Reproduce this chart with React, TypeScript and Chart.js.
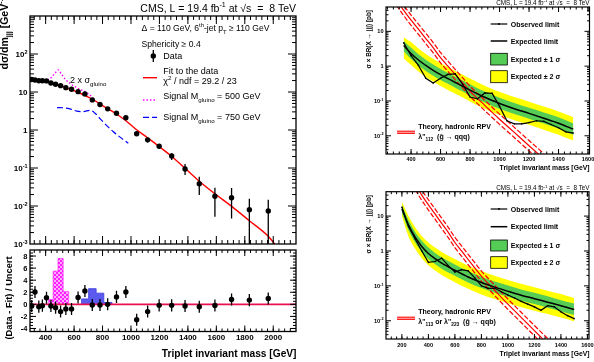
import React, { useEffect, useRef } from 'react';
import { Chart, registerables } from 'chart.js';

Chart.register(...registerables);

const FONT = '"Liberation Sans", Arial, Helvetica, sans-serif';

// ================= Left panel: triplet invariant mass spectrum =================
const massCenters = [302, 325, 352, 377, 406, 437, 470, 505, 542, 582, 628, 676, 728, 782, 836, 898, 964, 1040, 1117, 1198, 1286, 1380, 1480, 1590, 1707, 1832, 1965];
const dataValues = [21.3, 20.7, 19.8, 19.8, 19.6, 17.3, 16.0, 14.7, 13.0, 11.8, 10.2, 8.9, 6.2, 4.7, 3.6, 2.75, 2.1, 0.80, 0.55, 0.372, 0.207, 0.094, 0.0386, 0.018, 0.0165, 0.0080, 0.0074];
const dataHigh = [22.0, 21.4, 20.4, 20.4, 20.2, 17.9, 16.6, 15.3, 13.5, 12.3, 10.7, 9.3, 6.5, 5.0, 3.85, 2.95, 2.3, 0.90, 0.63, 0.43, 0.245, 0.127, 0.059, 0.0303, 0.0296, 0.0155, 0.0145];
const dataLow = [20.6, 20.0, 19.2, 19.2, 19.0, 16.7, 15.4, 14.1, 12.5, 11.3, 9.7, 8.5, 5.9, 4.4, 3.35, 2.55, 1.9, 0.70, 0.47, 0.32, 0.163, 0.0655, 0.0195, 0.0052, 0.0047, 0.0001, 0.0001];

const fitMass = [290, 350, 400, 450, 500, 550, 600, 650, 700, 750, 800, 850, 900, 960, 1035, 1112, 1195, 1283, 1380, 1480, 1590, 1708, 1832, 1968, 2030];
const fitValues = [21.6, 20.4, 19.3, 17.4, 15.1, 12.8, 10.8, 9.0, 7.3, 5.8, 4.4, 3.4, 2.6, 1.8, 1.05, 0.64, 0.375, 0.207, 0.098, 0.045, 0.021, 0.0098, 0.0041, 0.00156, 0.0008];

const sig500Mass = [413, 440, 465, 489, 510, 536, 570, 606, 640, 677, 710, 735];
const sig500Values = [21, 24, 31, 38, 30, 22, 17, 13.8, 11.8, 10.2, 8.4, 6.8];
const sig750Mass = [480, 520, 570, 618, 665, 712, 745, 782, 830, 876, 930, 981];
const sig750Values = [3.9, 3.85, 3.6, 3.15, 3.05, 3.3, 2.8, 2.0, 1.3, 0.9, 0.62, 0.45];

const pullValues = [-0.28, 2.05, -0.38, -0.22, 1.08, -0.28, -0.55, -1.2, -0.76, -0.76, 1.13, 2.2, -0.1, -0.1, 0, 1.23, 2.05, -2.55, -1.2, -0.17, -0.17, -0.28, -0.4, -0.2, 0.8, 0.7, 0.97];
const pullError = 1;
const sig500HistEdges = [421, 453, 487, 523, 562];
const sig500HistValues = [0.8, 5.5, 7.6, 2.1];
const sig750HistEdges = [652, 702, 755, 809, 867];
const sig750HistValues = [0.9, 2.6, 1.85, 0.3];

const massTickLabels = [400, 600, 800, 1000, 1200, 1400, 1600, 1800, 2000];
const pullTickLabels = [8, 6, 4, 2, 0, -2, -4];
const yieldTickValues = [100, 10, 1, 0.1, 0.01, 0.001];
const yieldTickLabels = ['10^{2}', '10', '1', '10^{-1}', '10^{-2}', '10^{-3}'];

// ================= Right panels: cross-section limits =================
const limitTickValues = [10, 1, 0.1, 0.01];
const limitTickLabels = ['10', '1', '10^{-1}', '10^{-2}'];
const topMassTicks = [400, 600, 800, 1000, 1200, 1400, 1600];
const bottomMassTicks = [200, 400, 600, 800, 1000, 1200, 1400, 1600];

const topExpMass = [350, 400, 450, 500, 550, 600, 650, 700, 750, 800, 850, 900, 950, 1000, 1100, 1200, 1300, 1400, 1500];
const topExpected = [3.9, 2.3, 1.5, 1.05, 0.76, 0.57, 0.44, 0.34, 0.265, 0.205, 0.16, 0.128, 0.103, 0.085, 0.06, 0.044, 0.032, 0.023, 0.0155];
const topYellowHi = [6.8, 4.9, 3.2, 2.25, 1.62, 1.22, 0.94, 0.73, 0.57, 0.44, 0.345, 0.275, 0.222, 0.183, 0.129, 0.095, 0.069, 0.05, 0.034];
const topYellowLo = [1.7, 1.08, 0.7, 0.49, 0.36, 0.27, 0.207, 0.16, 0.125, 0.096, 0.075, 0.06, 0.048, 0.04, 0.028, 0.0207, 0.015, 0.0108, 0.0073];
const topGreenHi = [5.3, 3.35, 2.2, 1.53, 1.11, 0.83, 0.64, 0.5, 0.385, 0.3, 0.233, 0.187, 0.15, 0.124, 0.088, 0.064, 0.047, 0.034, 0.0225];
const topGreenLo = [2.7, 1.6, 1.05, 0.73, 0.53, 0.4, 0.31, 0.24, 0.186, 0.144, 0.112, 0.09, 0.072, 0.06, 0.042, 0.031, 0.0224, 0.0161, 0.0108];
const topObsMass = [350, 400, 450, 500, 550, 600, 650, 700, 750, 800, 850, 900, 950, 1000, 1050, 1100, 1150, 1200, 1250, 1300, 1350, 1400, 1450, 1500];
const topObserved = [4.7, 2.0, 1.05, 0.45, 0.33, 0.45, 0.58, 0.6, 0.3, 0.13, 0.115, 0.17, 0.165, 0.07, 0.027, 0.022, 0.022, 0.024, 0.027, 0.026, 0.021, 0.017, 0.013, 0.012];

const botExpMass = [200, 250, 300, 350, 400, 450, 500, 600, 700, 800, 900, 1000, 1100, 1200, 1300, 1400, 1500];
const botExpected = [16, 5.5, 2.5, 1.35, 0.85, 0.6, 0.45, 0.28, 0.18, 0.125, 0.092, 0.07, 0.054, 0.043, 0.034, 0.027, 0.021];
const botYellowHi = [26, 10, 4.8, 2.7, 1.75, 1.25, 0.94, 0.59, 0.38, 0.265, 0.195, 0.148, 0.115, 0.092, 0.073, 0.058, 0.045];
const botYellowLo = [10, 2.6, 1.15, 0.62, 0.39, 0.275, 0.205, 0.128, 0.082, 0.057, 0.042, 0.032, 0.0245, 0.0195, 0.0155, 0.0123, 0.0096];
const botGreenHi = [21, 7.6, 3.5, 1.95, 1.25, 0.88, 0.66, 0.41, 0.265, 0.183, 0.134, 0.102, 0.079, 0.063, 0.05, 0.039, 0.031];
const botGreenLo = [12.5, 3.9, 1.75, 0.94, 0.59, 0.42, 0.31, 0.195, 0.125, 0.087, 0.064, 0.049, 0.0375, 0.03, 0.0236, 0.0188, 0.0146];
const botObsMass = [200, 250, 300, 350, 400, 450, 500, 550, 600, 650, 700, 750, 800, 850, 900, 950, 1000, 1050, 1100, 1150, 1200, 1250, 1300, 1350, 1400, 1450, 1500];
const botObserved = [18, 5.0, 2.2, 1.0, 0.47, 0.5, 0.62, 0.38, 0.25, 0.29, 0.27, 0.17, 0.1, 0.085, 0.085, 0.068, 0.055, 0.045, 0.036, 0.03, 0.025, 0.02, 0.027, 0.025, 0.018, 0.014, 0.0115];

const theoryMass = [300, 350, 400, 450, 500, 550, 600, 650, 700, 750, 800, 850, 900, 950, 1000, 1100, 1200, 1300];
const theoryXsec = [80, 40, 21, 11.5, 6.2, 3.4, 1.75, 1.0, 0.57, 0.33, 0.19, 0.118, 0.075, 0.047, 0.030, 0.0125, 0.0052, 0.0022];
const theoryHigh = [112, 56, 29.4, 16.1, 8.7, 4.76, 2.45, 1.4, 0.8, 0.46, 0.266, 0.165, 0.105, 0.066, 0.042, 0.0175, 0.0073, 0.0031];
const theoryLow = [57, 28.4, 14.9, 8.2, 4.4, 2.41, 1.24, 0.71, 0.405, 0.234, 0.135, 0.084, 0.053, 0.0334, 0.0213, 0.0089, 0.0037, 0.00156];

// ================= helpers =================
type Seg = [string, number];
function parse(s: string): Seg[] {
  const out: Seg[] = [];
  let buf = '';
  let i = 0;
  while (i < s.length) {
    const c = s[i];
    if ((c === '^' || c === '_') && s[i + 1] === '{') {
      if (buf) { out.push([buf, 0]); buf = ''; }
      const j = s.indexOf('}', i + 2);
      out.push([s.slice(i + 2, j), c === '^' ? 1 : -1]);
      i = j + 1;
    } else { buf += c; i++; }
  }
  if (buf) out.push([buf, 0]);
  return out;
}
function segFont(size: number, bold: boolean, k: number) {
  const s = k === 0 ? size : size * 0.68;
  return `${bold ? 'bold ' : ''}${s.toFixed(2)}px ${FONT}`;
}
function drawRich(ctx: any, x: number, y: number, text: string, size: number, opt: any = {}) {
  const segs = parse(text);
  ctx.save();
  ctx.translate(x, y);
  if (opt.rot) ctx.rotate(opt.rot);
  let w = 0;
  for (const [t, k] of segs) { ctx.font = segFont(size, !!opt.bold, k); w += ctx.measureText(t).width; }
  let cx = opt.align === 'right' ? -w : opt.align === 'center' ? -w / 2 : 0;
  ctx.fillStyle = opt.color || '#000';
  ctx.textAlign = 'left';
  ctx.textBaseline = 'alphabetic';
  for (const [t, k] of segs) {
    ctx.font = segFont(size, !!opt.bold, k);
    const dy = k === 1 ? -size * 0.42 : k === -1 ? size * 0.3 : 0;
    ctx.fillText(t, cx, dy);
    cx += ctx.measureText(t).width;
  }
  ctx.restore();
}
function steps(from: number, to: number, step: number) {
  const r: number[] = [];
  for (let v = from; v <= to + 1e-9; v += step) r.push(Math.round(v * 1000) / 1000);
  return r;
}
function logMinors(d0: number, d1: number) {
  const r: number[] = [];
  for (let d = d0; d <= d1; d++) for (let k = 2; k <= 9; k++) r.push(k * Math.pow(10, d));
  return r;
}
function logMajors(d0: number, d1: number) {
  const r: number[] = [];
  for (let d = d0; d <= d1; d++) r.push(Math.pow(10, d));
  return r;
}
function drawTicks(ctx: any, chart: any, xs: number[], xLen: number, ys: number[], yLen: number, lw = 1) {
  const a = chart.chartArea;
  const xS = chart.scales.x, yS = chart.scales.y;
  ctx.save();
  ctx.strokeStyle = '#000';
  ctx.lineWidth = lw;
  ctx.beginPath();
  for (const v of xs) {
    const p = xS.getPixelForValue(v);
    if (p < a.left + 0.5 || p > a.right - 0.5) continue;
    ctx.moveTo(p, a.bottom); ctx.lineTo(p, a.bottom - xLen);
    ctx.moveTo(p, a.top); ctx.lineTo(p, a.top + xLen);
  }
  for (const v of ys) {
    const p = yS.getPixelForValue(v);
    if (p < a.top + 0.5 || p > a.bottom - 0.5) continue;
    ctx.moveTo(a.left, p); ctx.lineTo(a.left + yLen, p);
    ctx.moveTo(a.right, p); ctx.lineTo(a.right - yLen, p);
  }
  ctx.stroke();
  ctx.restore();
}
function drawFrame(ctx: any, a: any, lw: number) {
  ctx.save();
  ctx.strokeStyle = '#000';
  ctx.lineWidth = lw;
  ctx.strokeRect(a.left, a.top, a.right - a.left, a.bottom - a.top);
  ctx.restore();
}
function pts(xs: number[], ys: number[]) {
  return xs.map((x, i) => ({ x, y: ys[i] }));
}
function histPts(edges: number[], vals: number[]) {
  const r = [{ x: edges[0], y: 0 }];
  vals.forEach((v, i) => r.push({ x: edges[i], y: v }));
  r.push({ x: edges[edges.length - 1], y: 0 });
  return r;
}
const common: any = {
  responsive: false,
  animation: false,
  devicePixelRatio: 1,
  events: [],
  plugins: { legend: { display: false }, tooltip: { enabled: false }, title: { display: false } },
};

// ================= Left main panel =================
function mainConfig() {
  const plugin = {
    id: 'mainDecor',
    afterDatasetsDraw(chart: any) {
      const { ctx, chartArea: a } = chart;
      const xS = chart.scales.x, yS = chart.scales.y;
      ctx.save();
      ctx.beginPath();
      ctx.rect(a.left, a.top, a.right - a.left, a.bottom - a.top);
      ctx.clip();
      ctx.strokeStyle = '#000';
      ctx.lineWidth = 1.3;
      ctx.beginPath();
      massCenters.forEach((m, i) => {
        const px = xS.getPixelForValue(m);
        ctx.moveTo(px, yS.getPixelForValue(dataHigh[i]));
        ctx.lineTo(px, yS.getPixelForValue(dataLow[i]));
      });
      ctx.stroke();
      ctx.restore();
    },
    afterDraw(chart: any) {
      const { ctx, chartArea: a } = chart;
      const yS = chart.scales.y;
      drawFrame(ctx, a, 1.3);
      drawTicks(ctx, chart, massTickLabels, 8, logMajors(-3, 3), 8, 1);
      drawTicks(ctx, chart, steps(320, 2160, 40), 4, logMinors(-3, 2), 4, 1);
      yieldTickValues.forEach((v, i) => {
        drawRich(ctx, 27.5, yS.getPixelForValue(v) + 3, yieldTickLabels[i], 8, { bold: true, align: 'right' });
      });
      drawRich(ctx, 7.5, -6, 'dσ/dm_{jjj} [GeV^{-1}]', 10.5, { bold: true, align: 'right', rot: -Math.PI / 2 });
      drawRich(ctx, 296, 11.5, 'CMS, L = 19.4 fb^{-1} at √s  =  8 TeV', 10.5, { align: 'right' });
      drawRich(ctx, 141.5, 31, 'Δ = 110 GeV, 6^{th}-jet p_{T} ≥ 110 GeV', 8.6);
      drawRich(ctx, 141.5, 46.5, 'Sphericity ≥ 0.4', 8.6);
      // legend
      ctx.save();
      ctx.fillStyle = '#000';
      ctx.beginPath(); ctx.arc(153.3, 56, 2.7, 0, Math.PI * 2); ctx.fill();
      ctx.strokeStyle = '#000'; ctx.lineWidth = 1.3;
      ctx.beginPath(); ctx.moveTo(153.3, 50); ctx.lineTo(153.3, 62); ctx.stroke();
      ctx.strokeStyle = '#ff0000'; ctx.lineWidth = 1.4;
      ctx.beginPath(); ctx.moveTo(143, 77.7); ctx.lineTo(157, 77.7); ctx.stroke();
      ctx.strokeStyle = '#ff00ff'; ctx.setLineDash([1.5, 2]);
      ctx.beginPath(); ctx.moveTo(143, 100); ctx.lineTo(157, 100); ctx.stroke();
      ctx.strokeStyle = '#0000ff'; ctx.setLineDash([6, 3]); ctx.lineWidth = 1.2;
      ctx.beginPath(); ctx.moveTo(143, 117.3); ctx.lineTo(157, 117.3); ctx.stroke();
      ctx.restore();
      drawRich(ctx, 163.3, 59, 'Data', 9);
      drawRich(ctx, 163.3, 74.3, 'Fit to the data', 9);
      drawRich(ctx, 163.3, 83.5, 'χ^{2} / ndf = 29.2 / 23', 9);
      drawRich(ctx, 163.3, 99, 'Signal M_{gluino} = 500 GeV', 9);
      drawRich(ctx, 163.3, 119.8, 'Signal M_{gluino} = 750 GeV', 9);
      drawRich(ctx, 70, 83, '2 x σ_{gluino}', 9);
    },
  };
  return {
    type: 'line',
    data: {
      datasets: [
        { data: pts(massCenters, dataValues), showLine: false, pointRadius: 2.7, pointBackgroundColor: '#000', pointBorderColor: '#000', pointBorderWidth: 0 },
        { data: pts(fitMass, fitValues), borderColor: '#ff0000', borderWidth: 1.4, pointRadius: 0, cubicInterpolationMode: 'monotone', fill: false },
        { data: pts(sig500Mass, sig500Values), borderColor: '#ff00ff', borderWidth: 1.4, borderDash: [1.5, 2], pointRadius: 0, cubicInterpolationMode: 'monotone', fill: false },
        { data: pts(sig750Mass, sig750Values), borderColor: '#0000ff', borderWidth: 1.2, borderDash: [6, 3], pointRadius: 0, cubicInterpolationMode: 'monotone', fill: false },
      ],
    },
    options: {
      ...common,
      layout: { padding: { left: 30, top: 16, right: 4, bottom: 8 } },
      scales: {
        x: { type: 'linear', min: 290, max: 2160, display: false },
        y: { type: 'logarithmic', min: 0.001, max: 1000, display: false },
      },
    },
    plugins: [plugin],
  };
}

// ================= Left ratio panel =================
function ratioConfig(ctx2d: any) {
  const pc = document.createElement('canvas');
  pc.width = 4; pc.height = 4;
  const g = pc.getContext('2d')!;
  g.fillStyle = '#ff22ff'; g.fillRect(0, 0, 4, 4);
  g.fillStyle = '#ffaaff'; g.fillRect(0, 0, 2, 2); g.fillRect(2, 2, 2, 2);
  const pattern = ctx2d.createPattern(pc, 'repeat');
  const plugin = {
    id: 'ratioDecor',
    afterDatasetsDraw(chart: any) {
      const { ctx } = chart;
      const xS = chart.scales.x, yS = chart.scales.y;
      ctx.save();
      ctx.strokeStyle = '#000'; ctx.lineWidth = 1.3;
      ctx.beginPath();
      massCenters.forEach((m, i) => {
        const px = xS.getPixelForValue(m);
        ctx.moveTo(px, yS.getPixelForValue(pullValues[i] + pullError));
        ctx.lineTo(px, yS.getPixelForValue(pullValues[i] - pullError));
      });
      ctx.stroke();
      ctx.restore();
    },
    afterDraw(chart: any) {
      const { ctx, chartArea: a } = chart;
      const xS = chart.scales.x, yS = chart.scales.y;
      drawFrame(ctx, a, 1.3);
      drawTicks(ctx, chart, massTickLabels, 6, pullTickLabels, 6, 1);
      drawTicks(ctx, chart, steps(320, 2160, 40), 3, steps(-4.5, 9, 0.5), 3, 1);
      pullTickLabels.forEach((v) => drawRich(ctx, 27.5, yS.getPixelForValue(v) + 2.8, String(v), 7.5, { bold: true, align: 'right' }));
      massTickLabels.forEach((v) => drawRich(ctx, xS.getPixelForValue(v), 94, String(v), 8, { bold: true, align: 'center' }));
      drawRich(ctx, 296.5, 110.5, 'Triplet invariant mass [GeV]', 10.2, { bold: true, align: 'right' });
      drawRich(ctx, 12, 52, '(Data - Fit) / Uncert', 9.3, { bold: true, align: 'center', rot: -Math.PI / 2 });
    },
  };
  return {
    type: 'line',
    data: {
      datasets: [
        { data: pts(massCenters, pullValues), showLine: false, pointRadius: 2.7, pointBackgroundColor: '#000', pointBorderColor: '#000', pointBorderWidth: 0 },
        { data: [{ x: 290, y: 0 }, { x: 2160, y: 0 }], borderColor: '#e8104f', borderWidth: 1.8, pointRadius: 0, fill: false },
        { data: histPts(sig500HistEdges, sig500HistValues), stepped: 'before', borderColor: '#ff00ff', borderWidth: 0.6, backgroundColor: pattern, fill: 'origin', pointRadius: 0 },
        { data: histPts(sig750HistEdges, sig750HistValues), stepped: 'before', borderColor: '#3c3ce0', borderWidth: 0.8, backgroundColor: '#5a5aee', fill: 'origin', pointRadius: 0 },
      ],
    },
    options: {
      ...common,
      layout: { padding: { left: 30, top: 2.5, right: 4, bottom: 116 - 85.5 } },
      scales: {
        x: { type: 'linear', min: 290, max: 2160, display: false },
        y: { type: 'linear', min: -4.5, max: 9, display: false },
      },
    },
    plugins: [plugin],
  };
}

// ================= Right limit panels =================
function limitConfig(p: any) {
  const clear = 'rgba(0,0,0,0)';
  const plugin = {
    id: 'limitDecor',
    afterDraw(chart: any) {
      const { ctx, chartArea: a } = chart;
      const xS = chart.scales.x, yS = chart.scales.y;
      drawFrame(ctx, a, 1.2);
      drawTicks(ctx, chart, p.xTicks, 5, logMajors(-3, 2), 5, 1);
      drawTicks(ctx, chart, steps(0, 1600, 40), 2.5, logMinors(-3, 1), 2.5, 1);
      limitTickValues.forEach((v, i) => drawRich(ctx, 83.5, yS.getPixelForValue(v) + 2, limitTickLabels[i], 5.6, { bold: true, align: 'right' }));
      p.xTicks.forEach((v: number) => drawRich(ctx, xS.getPixelForValue(v), p.xLabelY, String(v), 5.6, { bold: true, align: 'center' }));
      drawRich(ctx, 289.5, p.xTitleY, 'Triplet invariant mass [GeV]', 6.8, { bold: true, align: 'right' });
      drawRich(ctx, 71, p.yTitleEnd, 'σ × BR(X → jjj) [pb]', 6.4, { bold: true, align: 'right', rot: -Math.PI / 2 });
      drawRich(ctx, 289.5, p.titleY, 'CMS, L = 19.4 fb^{-1} at √s  =  8 TeV', 6.3, { align: 'right' });
      // legend
      const L = p.legend;
      ctx.save();
      ctx.strokeStyle = '#000';
      ctx.lineWidth = 1.2;
      ctx.beginPath(); ctx.moveTo(190.7, L.obs); ctx.lineTo(207.3, L.obs); ctx.stroke();
      ctx.fillStyle = '#000'; ctx.beginPath(); ctx.arc(199, L.obs, 1, 0, Math.PI * 2); ctx.fill();
      ctx.lineWidth = 1.5;
      ctx.beginPath(); ctx.moveTo(190.7, L.exp); ctx.lineTo(207.3, L.exp); ctx.stroke();
      ctx.lineWidth = 0.8;
      ctx.fillStyle = '#55cc55'; ctx.fillRect(190.7, L.g[0], 16.6, L.g[1] - L.g[0]); ctx.strokeRect(190.7, L.g[0], 16.6, L.g[1] - L.g[0]);
      ctx.fillStyle = '#ffff00'; ctx.fillRect(190.7, L.y[0], 16.6, L.y[1] - L.y[0]); ctx.strokeRect(190.7, L.y[0], 16.6, L.y[1] - L.y[0]);
      ctx.strokeStyle = '#ff2020'; ctx.lineWidth = 3.4;
      ctx.beginPath(); ctx.moveTo(97, p.theoryLineY); ctx.lineTo(115, p.theoryLineY); ctx.stroke();
      ctx.strokeStyle = '#ffb0b0'; ctx.lineWidth = 1;
      ctx.beginPath(); ctx.moveTo(97, p.theoryLineY); ctx.lineTo(115, p.theoryLineY); ctx.stroke();
      ctx.restore();
      drawRich(ctx, 210.7, L.obs + 2.5, 'Observed limit', 7, { bold: true });
      drawRich(ctx, 210.7, L.exp + 2.5, 'Expected limit', 7, { bold: true });
      drawRich(ctx, 210.7, (L.g[0] + L.g[1]) / 2 + 2.5, 'Expected ± 1 σ', 7, { bold: true });
      drawRich(ctx, 210.7, (L.y[0] + L.y[1]) / 2 + 2.5, 'Expected ± 2 σ', 7, { bold: true });
      drawRich(ctx, 118.3, p.theoryY[0], 'Theory, hadronic RPV', 7, { bold: true });
      drawRich(ctx, 118.3, p.theoryY[1], p.theoryText, 7, { bold: true });
    },
  };
  const band = (ys: number[], color: string, fill: any) => ({
    data: pts(p.expMass, ys), borderColor: clear, borderWidth: 0, pointRadius: 0, backgroundColor: color, fill, cubicInterpolationMode: 'monotone',
  });
  return {
    type: 'line',
    data: {
      datasets: [
        { data: pts(p.obsMass, p.observed), borderColor: '#000', borderWidth: 1.2, pointRadius: 0.8, pointBackgroundColor: '#000', pointBorderWidth: 0, fill: false, tension: 0 },
        { data: pts(p.expMass, p.expected), borderColor: '#000', borderWidth: 1.5, pointRadius: 0, fill: false, cubicInterpolationMode: 'monotone' },
        { data: pts(theoryMass, theoryXsec), borderColor: '#ff0000', borderWidth: 1.2, pointRadius: 0, fill: false, cubicInterpolationMode: 'monotone' },
        { data: pts(theoryMass, theoryHigh), borderColor: '#ff0000', borderWidth: 1.2, borderDash: [5, 2], pointRadius: 0, fill: false, cubicInterpolationMode: 'monotone' },
        { data: pts(theoryMass, theoryLow), borderColor: '#ff0000', borderWidth: 1.2, borderDash: [5, 2], pointRadius: 0, fill: false, cubicInterpolationMode: 'monotone' },
        band(p.greenHi, '#55cc55', '+1'),
        band(p.greenLo, clear, false),
        band(p.yellowHi, '#ffff00', '+1'),
        band(p.yellowLo, clear, false),
      ],
    },
    options: {
      ...common,
      layout: { padding: p.padding },
      scales: {
        x: { type: 'linear', min: p.xMin, max: p.xMax, display: false },
        y: { type: 'logarithmic', min: 0.003, max: 50, display: false },
      },
    },
    plugins: [plugin],
  };
}

const topPanel = {
  expMass: topExpMass, expected: topExpected, yellowHi: topYellowHi, yellowLo: topYellowLo, greenHi: topGreenHi, greenLo: topGreenLo,
  obsMass: topObsMass, observed: topObserved, xTicks: topMassTicks, xMin: 230, xMax: 1610,
  padding: { left: 86, top: 7, right: 4.5, bottom: 21 },
  titleY: 4.8, xLabelY: 160.5, xTitleY: 169.5, yTitleEnd: 10,
  legend: { obs: 24, exp: 41, g: [53.3, 65], y: [70.7, 82.7] },
  theoryY: [128.5, 138.5], theoryLineY: 132.3, theoryText: "λ''_{112}  (g̃ → qqq)",
};
const bottomPanel = {
  expMass: botExpMass, expected: botExpected, yellowHi: botYellowHi, yellowLo: botYellowLo, greenHi: botGreenHi, greenLo: botGreenLo,
  obsMass: botObsMass, observed: botObserved, xTicks: bottomMassTicks, xMin: 80, xMax: 1612,
  padding: { left: 86, top: 16.7, right: 5, bottom: 23 },
  titleY: 15.2, xLabelY: 171.5, xTitleY: 181, yTitleEnd: 20,
  legend: { obs: 34, exp: 51.7, g: [65, 76], y: [81.7, 93.3] },
  theoryY: [139, 149], theoryLineY: 143.3, theoryText: "λ''_{113} or λ''_{223}  (g̃ → qqb)",
};

function ChartCanvas({ left, top, width, height, make }: any) {
  const ref = useRef<HTMLCanvasElement>(null);
  useEffect(() => {
    const c = ref.current as HTMLCanvasElement;
    const chart = new Chart(c, make(c.getContext('2d')));
    return () => chart.destroy();
  }, []);
  return <canvas ref={ref} width={width} height={height} style={{ position: 'absolute', left, top, width, height }} />;
}

export default function App() {
  return (
    <div style={{ position: 'fixed', left: 0, top: 0, width: 594, height: 362, background: '#fff', overflow: 'hidden' }}>
      <ChartCanvas left={0} top={0} width={300} height={252} make={() => mainConfig()} />
      <ChartCanvas left={0} top={246} width={300} height={116} make={(c: any) => ratioConfig(c)} />
      <ChartCanvas left={300} top={0} width={294} height={175} make={() => limitConfig(topPanel)} />
      <ChartCanvas left={300} top={175} width={294} height={187} make={() => limitConfig(bottomPanel)} />
    </div>
  );
}
